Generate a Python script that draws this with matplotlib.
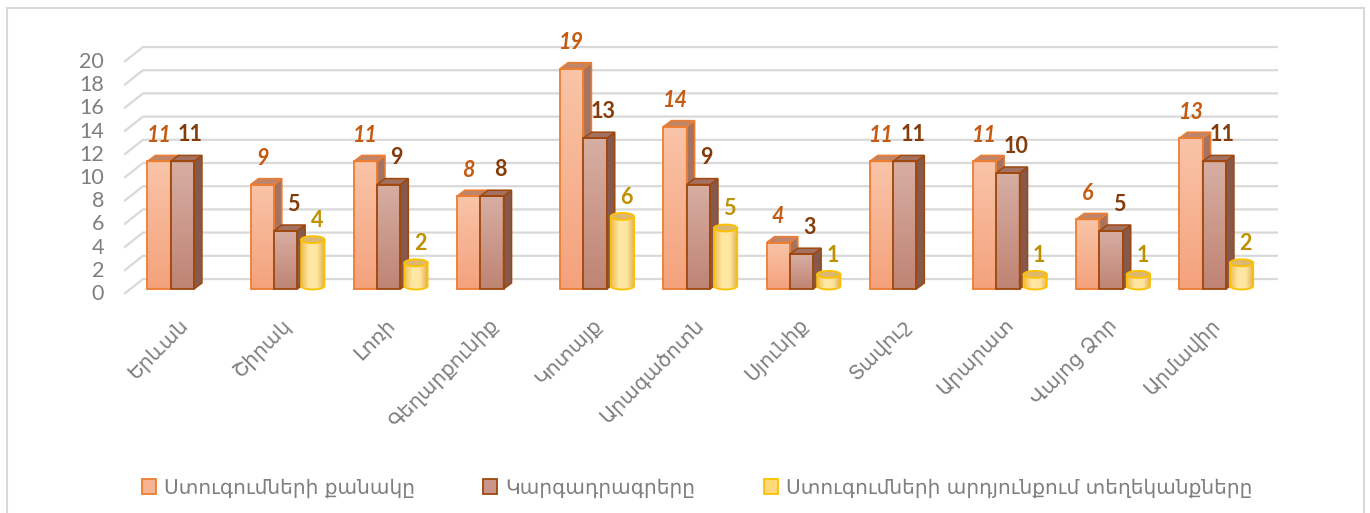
import matplotlib

matplotlib.use("Agg")

import matplotlib.pyplot as plt
import numpy as np
from matplotlib.colors import LinearSegmentedColormap
from matplotlib.patches import Ellipse, Patch, Polygon, Rectangle

regions = ["Երևան", "Շիրակ", "Լոռի", "Գեղարքունիք", "Կոտայք", "Արագածոտն",
           "Սյունիք", "Տավուշ", "Արարատ", "Վայոց Ձոր", "Արմավիր"]
inspections = [11, 9, 11, 8, 19, 14, 4, 11, 11, 6, 13]
orders = [11, 5, 9, 8, 13, 9, 3, 11, 10, 5, 11]
certificates = [0, 4, 2, 0, 6, 5, 1, 0, 1, 1, 2]
series_names = ["Ստուգումների քանակը", "Կարգադրագրերը",
                "Ստուգումների արդյունքում տեղեկանքները"]
y_ticks = list(range(0, 21, 2))

# pixel geometry of the reference
FIG_W, FIG_H = 1370, 513
PX_X, PX_Y = 103.2, 11.6      # px per category, px per unit
X0, Y0 = 182.3, 289.0         # category 0 centre, value 0 on bar fronts
BAR_W = 23.3 / PX_X
DX, DY = 8 / PX_X, 6 / PX_Y   # bar depth
WALL_DX, WALL_FRONT, WALL_BACK = 19 / PX_X, -5 / PX_Y, 10 / PX_Y

NUM_FONT = ["Lato", "DejaVu Sans"]
ARM_FONT = ["DejaVu Sans"]
GRAY = "#7F7F7F"

STYLES = [
    dict(grad=["#F4A27C", "#F9C4A8"], top="#C08468", side="#A5735F",
         edge="#ED7D31", label="#C55A11", legend="#F7B495"),
    dict(grad=["#BF8474", "#D7AEA3"], top="#A47161", side="#85594C",
         edge="#9E480E", label="#843C0C", legend="#C99689"),
    dict(grad=["#EDBC52", "#FFE8A4", "#FFE6A0", "#DDAE4E"], top="#DCB86E",
         side=None, edge="#FFC000", label="#BF9000", legend="#FFD97A"),
]


def px_x(p):
    return (p - X0) / PX_X


def px_y(p):
    return (Y0 - p) / PX_Y


def gradient_fill(ax, patch, extent, colors, horizontal, zorder):
    cmap = LinearSegmentedColormap.from_list("grad", colors)
    ramp = np.linspace(0, 1, 64)
    img = ramp[None, :] if horizontal else ramp[:, None]
    im = ax.imshow(img, cmap=cmap, extent=extent, origin="lower",
                   aspect="auto", interpolation="bilinear", zorder=zorder)
    im.set_clip_path(patch)


def draw_box(ax, left, value, style, z):
    right = left + BAR_W
    front = Rectangle((left, 0), BAR_W, value, facecolor="none",
                      edgecolor=style["edge"], linewidth=1.3, zorder=z + 0.05)
    ax.add_patch(front)
    gradient_fill(ax, front, (left, right, 0, value), style["grad"], False, z)
    top = Polygon([(left, value), (right, value), (right + DX, value + DY),
                   (left + DX, value + DY)], closed=True,
                  facecolor=style["top"], edgecolor=style["edge"],
                  linewidth=1.1, zorder=z + 0.02)
    side = Polygon([(right, 0), (right, value), (right + DX, value + DY),
                    (right + DX, DY)], closed=True,
                   facecolor=style["side"], edgecolor=style["edge"],
                   linewidth=1.1, zorder=z + 0.02)
    ax.add_patch(side)
    ax.add_patch(top)


def draw_cylinder(ax, left, value, style, z):
    cx = left + BAR_W / 2 + DX / 2
    a = BAR_W / 2
    b = 3.5 / PX_Y
    y_bot, y_top = DY / 2, value + DY / 2
    theta = np.linspace(np.pi, 2 * np.pi, 40)
    arc = np.column_stack([cx + a * np.cos(theta), y_bot + b * np.sin(theta)])
    outline = np.vstack([[(cx - a, y_top)], arc, [(cx + a, y_top)]])
    body = Polygon(outline, closed=True, facecolor="none",
                   edgecolor=style["edge"], linewidth=1.3, zorder=z + 0.05)
    ax.add_patch(body)
    gradient_fill(ax, body, (cx - a, cx + a, y_bot - b, y_top),
                  style["grad"], True, z)
    cap = Ellipse((cx, y_top), 2 * a, 2 * b, facecolor=style["top"],
                  edgecolor=style["edge"], linewidth=1.3, zorder=z + 0.06)
    ax.add_patch(cap)


fig = plt.figure(figsize=(FIG_W / 100, FIG_H / 100), dpi=100)
fig.patches.append(Rectangle((7 / FIG_W, -0.05), (1364 - 7) / FIG_W,
                             1 - 8 / FIG_H + 0.05, transform=fig.transFigure,
                             facecolor="none", edgecolor="#D9D9D9",
                             linewidth=1.5))

ax_l, ax_r, ax_t, ax_b = 124, 1278, 30, 300
ax = fig.add_axes([ax_l / FIG_W, 1 - ax_b / FIG_H, (ax_r - ax_l) / FIG_W,
                   (ax_b - ax_t) / FIG_H])
ax.set_axis_off()

# walls: back gridlines with the left-wall stubs
for v in y_ticks:
    ax.plot([px_x(ax_l), px_x(ax_l) + WALL_DX, px_x(ax_r)],
            [v + WALL_FRONT, v + WALL_BACK, v + WALL_BACK],
            color="#D9D9D9", linewidth=1.6, zorder=1, solid_capstyle="butt")
    ax.text(px_x(104), v + WALL_FRONT, str(v), ha="right", va="center",
            fontsize=15.5, color=GRAY, family=NUM_FONT)

series = [inspections, orders, certificates]
for i in range(len(regions)):
    for s, values in enumerate(series):
        v = values[i]
        if v == 0:
            continue
        left = i + (s - 1.5) * BAR_W
        z = 3 + s
        if s < 2:
            draw_box(ax, left, v, STYLES[s], z)
        else:
            draw_cylinder(ax, left, v, STYLES[s], z)
        centre = left + BAR_W / 2
        if s == 0:
            ax.text(centre, v + 2.24, str(v), ha="center", va="center",
                    fontsize=15.5, fontweight="bold", fontstyle="italic",
                    color=STYLES[s]["label"], family=NUM_FONT, zorder=10)
        else:
            lift = 2.3 if s == 1 else 1.9
            ax.text(centre + 8 / PX_X, v + lift, str(v), ha="center",
                    va="center", fontsize=15.5, fontweight="bold",
                    color=STYLES[s]["label"], family=NUM_FONT, zorder=10)

for i, name in enumerate(regions):
    ax.text(i + 0.03, px_y(322), name, rotation=45, rotation_mode="anchor",
            ha="right", va="center", fontsize=14.5, color=GRAY,
            family=ARM_FONT)

ax.set_xlim(px_x(ax_l), px_x(ax_r))
ax.set_ylim(px_y(ax_b), px_y(ax_t))

handles = [Patch(facecolor=st["legend"], edgecolor=st["edge"], linewidth=1.3)
           for st in STYLES]
fig.legend(handles, series_names, loc="center", ncol=3, frameon=False,
           bbox_to_anchor=(697 / FIG_W, 1 - 488 / FIG_H),
           prop={"family": ARM_FONT, "size": 14.5}, labelcolor=GRAY,
           handlelength=0.7, handleheight=0.7, handletextpad=0.4,
           columnspacing=3.4)

fig.savefig("out.png", dpi=100)
